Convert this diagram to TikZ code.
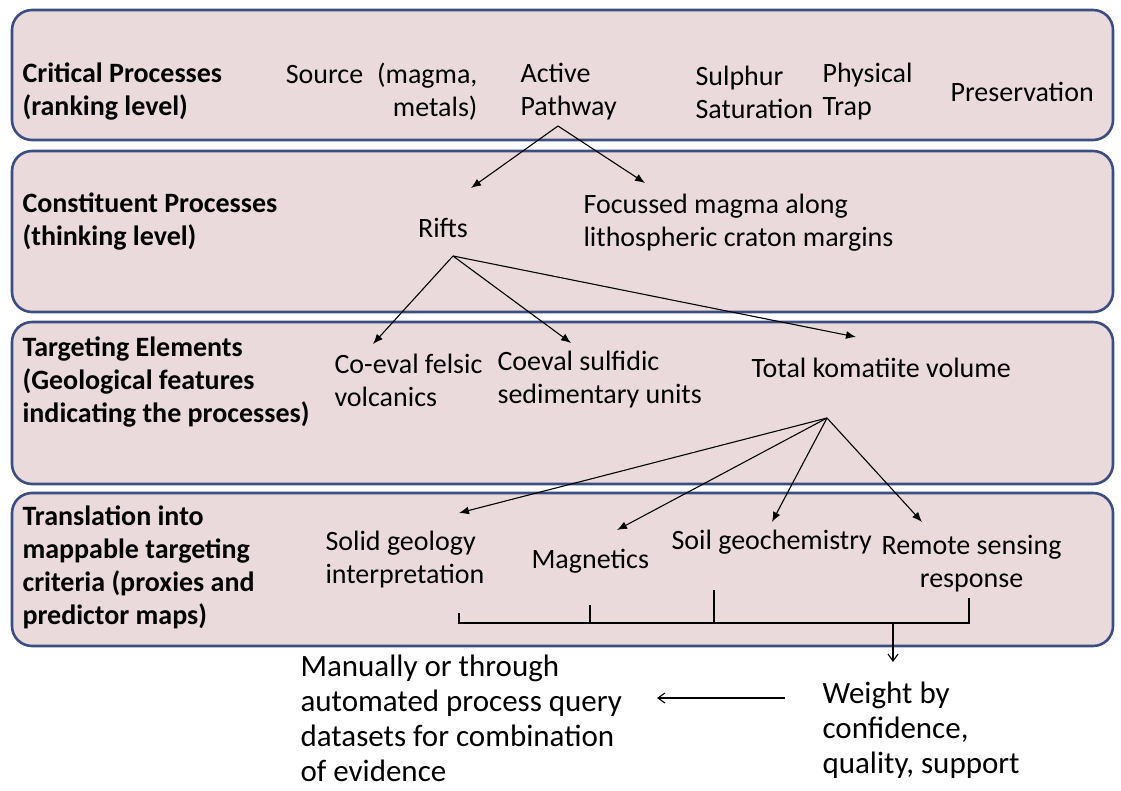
\documentclass[tikz,border=0pt]{standalone}
\usepackage{fontspec}
\setmainfont{Carlito}
\usetikzlibrary{arrows.meta}

\definecolor{panelfill}{RGB}{234,218,219}
\definecolor{panelline}{RGB}{60,78,128}

\begin{document}
\begin{tikzpicture}[x=1pt, y=-1pt, line width=1.1pt,
    panel/.style={draw=panelline, fill=panelfill, line width=2.6pt, rounded corners=20pt},
    lbl/.style={anchor=west, align=left, inner sep=0pt, font=\fontsize{28}{33}\selectfont\bfseries},
    txt/.style={anchor=west, align=left, inner sep=0pt, font=\fontsize{28}{33}\selectfont},
    big/.style={txt, font=\fontsize{31}{35}\selectfont},
    arr/.style={-{Latex[length=10pt,width=8pt]}},
    barb/.style={-{Straight Barb[length=7pt,width=10pt]}}]
  \useasboundingbox (0,0) rectangle (1121,791);

  % four level panels
  \draw[panel] (12,10) rectangle (1113,140);
  \draw[panel] (12,151) rectangle (1113,312);
  \draw[panel] (12,322) rectangle (1113,484);
  \draw[panel] (12,493) rectangle (1113,646);

  % level 1: critical processes
  \node[lbl] (critical) at (22,92) {Critical Processes\\(ranking level)};
  \node[txt, anchor=east, align=right] (source) at (478,92) {Source\hspace{14pt}(magma,\\metals)};
  \node[txt] (pathway) at (520,92) {Active\\Pathway};
  \node[txt] (sulphur) at (695,92) {Sulphur\\Saturation};
  \node[txt] (trap) at (822,92) {Physical\\Trap};
  \node[txt] (preserve) at (950,92) {Preservation};

  % level 2: constituent processes
  \node[lbl] (constituent) at (22,222) {Constituent Processes\\(thinking level)};
  \node[txt, anchor=center] (rifts) at (443,228) {Rifts};
  \node[txt] (focussed) at (583,223) {Focussed magma along\\lithospheric craton margins};

  % level 3: targeting elements
  \node[lbl] (targeting) at (22,382) {Targeting Elements\\(Geological features\\indicating the processes)};
  \node[txt] (felsic) at (334,380) {Co-eval felsic\\volcanics};
  \node[txt] (sulfidic) at (497,380) {Coeval sulfidic\\sedimentary units};
  \node[txt] (komatiite) at (751,368) {Total komatiite volume};

  % level 4: mappable criteria
  \node[lbl] (translation) at (22,567) {Translation into\\mappable targeting\\criteria (proxies and\\predictor maps)};
  \node[txt] (solid) at (325,560) {Solid geology\\interpretation};
  \node[txt] (magnetics) at (531,561) {Magnetics};
  \node[txt] (soil) at (671,542) {Soil geochemistry};
  \node[txt, align=center] (remote) at (881,564) {Remote sensing\\response};

  % outside the panels
  \node[big] (manual) at (300,718) {Manually or through\\automated process query\\datasets for combination\\of evidence};
  \node[big] (weight) at (822,730) {Weight by\\confidence,\\quality, support};

  % fork points and arrow ends
  \coordinate (pathfork) at (558,126);
  \coordinate (riftsfork) at (453,256);
  \coordinate (komfork) at (827,418);
  \coordinate (to-rifts) at (471,188);
  \coordinate (to-focus) at (645,183);
  \coordinate (to-felsic) at (373,344);
  \coordinate (to-sulfidic) at (571,343);
  \coordinate (to-kom) at (856,337);
  \coordinate (to-solid) at (459,513);
  \coordinate (to-mag) at (617,530);
  \coordinate (to-soil) at (772,522);
  \coordinate (to-remote) at (922,522);

  \draw[arr] (pathfork) -- (to-rifts);
  \draw[arr] (pathfork) -- (to-focus);
  \draw[arr] (riftsfork) -- (to-felsic);
  \draw[arr] (riftsfork) -- (to-sulfidic);
  \draw[arr] (riftsfork) -- (to-kom);
  \draw[arr] (komfork) -- (to-solid);
  \draw[arr] (komfork) -- (to-mag);
  \draw[arr] (komfork) -- (to-soil);
  \draw[arr] (komfork) -- (to-remote);

  % bracket collecting the criteria
  \coordinate (b-solid) at (459,613);
  \coordinate (b-mag) at (590,605);
  \coordinate (b-soil) at (714,590);
  \coordinate (b-remote) at (969,598);
  \coordinate (b-out) at (893,623);
  \draw (b-solid) |- (b-remote |- b-out) -- (b-remote);
  \draw (b-mag) -- (b-mag |- b-out);
  \draw (b-soil) -- (b-soil |- b-out);
  \coordinate (w-in) at (893,662);
  \draw[barb] (b-out) -- (w-in);

  \coordinate (w-out) at (785,698);
  \coordinate (m-in) at (657,698);
  \draw[barb] (w-out) -- (m-in);
\end{tikzpicture}
\end{document}
